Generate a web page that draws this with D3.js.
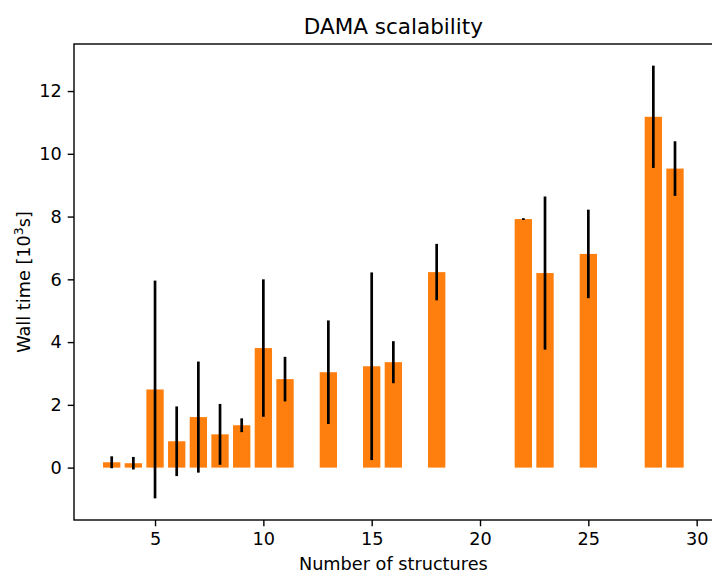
<!DOCTYPE html>
<html>
<head>
<meta charset="utf-8">
<script src="https://cdn.jsdelivr.net/npm/d3@7"></script>
<style>
	body { margin: 0; background: #fff; }
	svg { display: block; font-family: 'DejaVu Sans', sans-serif; }
</style>
</head>
<body>
<svg id="chart" width="712" height="577"></svg>
<script>
// number of structures per run
const structures = [3, 4, 5, 6, 7, 8, 9, 10, 11, 13, 15, 16, 18, 22, 23, 25, 28, 29];
// mean wall time (10^3 s)
const wallTime = [0.17, 0.14, 2.49, 0.84, 1.61, 1.06, 1.35, 3.81, 2.82, 3.04, 3.23, 3.36, 6.23, 7.92, 6.2, 6.81, 11.18, 9.53];
// std deviation (10^3 s)
const wallErr = [0.19, 0.2, 3.47, 1.11, 1.77, 0.97, 0.22, 2.19, 0.71, 1.65, 2.99, 0.67, 0.9, 0.03, 2.44, 1.41, 1.63, 0.87];
const xTicks = [5, 10, 15, 20, 25, 30];
const yTicks = [0, 2, 4, 6, 8, 10, 12];

const dimensions = {
	width: 712,
	height: 577,
	margin_left: 74,
	margin_right: -0.7,
	margin_top: 44,
	margin_bottom: 57
};
const { width, height, margin_left, margin_right, margin_top, margin_bottom } = dimensions;

const barWidth = 0.8;
const data = structures.map((s, i) => ({ s, t: wallTime[i], e: wallErr[i] }));

const svg = d3.select('#chart');

// XScale (autoscale with 5% margins, like matplotlib)
let x0 = d3.min(structures) - barWidth / 2;
let x1 = d3.max(structures) + barWidth / 2;
const xPad = (x1 - x0) * 0.05;
const xScale = d3
	.scaleLinear()
	.domain([x0 - xPad, x1 + xPad])
	.range([margin_left, width - margin_right]);

// YScale
let y0 = Math.min(0, d3.min(data, d => d.t - d.e));
let y1 = d3.max(data, d => d.t + d.e);
const yPad = (y1 - y0) * 0.05;
const yScale = d3
	.scaleLinear()
	.domain([y0 - yPad, y1 + yPad])
	.range([height - margin_bottom, margin_top]);

// bars
svg
	.append('g')
	.selectAll('rect')
	.data(data)
	.enter()
	.append('rect')
	.attr('x', d => xScale(d.s - barWidth / 2))
	.attr('width', d => xScale(d.s + barWidth / 2) - xScale(d.s - barWidth / 2))
	.attr('y', d => yScale(d.t))
	.attr('height', d => yScale(0) - yScale(d.t))
	.attr('fill', '#ff7f0e');

// error bars
svg
	.append('g')
	.selectAll('line')
	.data(data)
	.enter()
	.append('line')
	.attr('x1', d => xScale(d.s))
	.attr('x2', d => xScale(d.s))
	.attr('y1', d => yScale(d.t - d.e))
	.attr('y2', d => yScale(d.t + d.e))
	.attr('stroke', '#000')
	.attr('stroke-width', 2.7);

// axes
const xAxis = d3
	.axisBottom(xScale)
	.tickValues(xTicks)
	.tickSize(6.3)
	.tickPadding(6)
	.tickSizeOuter(0);
const gx = svg
	.append('g')
	.attr('transform', `translate(0, ${height - margin_bottom})`)
	.call(xAxis);

const yAxis = d3
	.axisLeft(yScale)
	.tickValues(yTicks)
	.tickSize(6.3)
	.tickPadding(6)
	.tickSizeOuter(0);
const gy = svg
	.append('g')
	.attr('transform', `translate(${margin_left}, 0)`)
	.call(yAxis);

[gx, gy].forEach(g => {
	g.select('.domain').remove();
	g.selectAll('line').attr('stroke', '#000').attr('stroke-width', 1.4);
	g.selectAll('text').attr('font-size', 17.7).attr('font-family', 'DejaVu Sans').attr('fill', '#000');
});

// frame
svg
	.append('rect')
	.attr('x', margin_left)
	.attr('y', margin_top)
	.attr('width', width - margin_right - margin_left)
	.attr('height', height - margin_bottom - margin_top)
	.attr('fill', 'none')
	.attr('stroke', '#000')
	.attr('stroke-width', 1.4);

// labels
svg
	.append('text')
	.attr('x', (margin_left + width - margin_right) / 2)
	.attr('y', 34)
	.attr('text-anchor', 'middle')
	.attr('font-size', 21.5)
	.text('DAMA scalability');

svg
	.append('text')
	.attr('x', (margin_left + width - margin_right) / 2)
	.attr('y', 570)
	.attr('text-anchor', 'middle')
	.attr('font-size', 17.7)
	.text('Number of structures');

const yl = svg
	.append('text')
	.attr('transform', `translate(30, ${(margin_top + height - margin_bottom) / 2}) rotate(-90)`)
	.attr('text-anchor', 'middle')
	.attr('font-size', 17.7);
yl.append('tspan').text('Wall time [10');
yl.append('tspan').attr('font-size', 12.4).attr('dy', -7).text('3');
yl.append('tspan').attr('dy', 7).text('s]');
</script>
</body>
</html>
